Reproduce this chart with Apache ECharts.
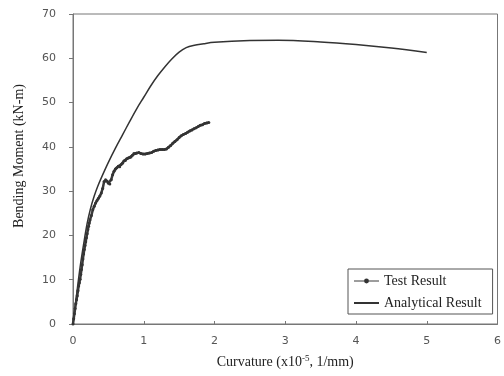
<!DOCTYPE html>
<html>
<head>
<meta charset="utf-8">
<script src="https://cdn.jsdelivr.net/npm/echarts@6/dist/echarts.min.js"></script>
<style>
  html, body { margin: 0; padding: 0; background: #fff; }
  #chart { width: 504px; height: 376px; }
</style>
</head>
<body>
<div id="chart"></div>
<script>
// test result (curvature x10^-5 1/mm, moment kN-m)
var testCurv = [0, 0.01, 0.02, 0.03, 0.04, 0.05, 0.06, 0.07, 0.08, 0.09, 0.10, 0.11, 0.12, 0.13, 0.14, 0.15, 0.16, 0.17, 0.18, 0.19,
  0.20, 0.21, 0.22, 0.23, 0.24, 0.26, 0.28, 0.30, 0.32, 0.34, 0.36, 0.38, 0.40, 0.42, 0.44, 0.46, 0.48, 0.50, 0.52, 0.54,
  0.56, 0.58, 0.60, 0.62, 0.64, 0.66, 0.68, 0.70, 0.72, 0.74, 0.76, 0.78, 0.80, 0.82, 0.84, 0.86, 0.88, 0.90, 0.93, 0.96,
  0.99, 1.02, 1.05, 1.08, 1.11, 1.14, 1.17, 1.20, 1.23, 1.26, 1.29, 1.32, 1.35, 1.38, 1.41, 1.44, 1.47, 1.50, 1.53, 1.56,
  1.59, 1.62, 1.65, 1.68, 1.71, 1.74, 1.77, 1.80, 1.83, 1.86, 1.89, 1.92];
var testMoment = [0, 1.2, 2.3, 3.5, 4.6, 5.5, 6.4, 7.5, 8.6, 9.3, 10.1, 11.2, 12.3, 13.4, 14.7, 15.8, 16.8, 17.7, 18.6, 19.5,
  20.4, 21.3, 22.1, 22.8, 23.5, 24.5, 25.8, 26.6, 27.3, 27.9, 28.4, 28.9, 29.6, 30.6, 32.2, 32.6, 32.3, 31.8, 31.6, 32.6,
  33.7, 34.5, 35.0, 35.3, 35.6, 35.5, 36.0, 36.3, 36.8, 36.9, 37.3, 37.5, 37.6, 37.7, 38.1, 38.5, 38.5, 38.6, 38.7, 38.5,
  38.4, 38.4, 38.5, 38.6, 38.7, 39.0, 39.2, 39.3, 39.4, 39.4, 39.4, 39.5, 39.9, 40.3, 40.8, 41.2, 41.6, 42.1, 42.5, 42.8,
  43.0, 43.3, 43.6, 43.8, 44.1, 44.3, 44.6, 44.9, 45.0, 45.3, 45.4, 45.5];

// analytical result
var anaCurv = [0, 0.05, 0.10, 0.15, 0.20, 0.25, 0.30, 0.35, 0.40, 0.50, 0.60, 0.70, 0.80, 0.90, 1.00, 1.10, 1.20, 1.30, 1.40,
  1.50, 1.60, 1.70, 1.85, 2.00, 2.50, 2.90, 3.50, 4.00, 4.50, 5.00];
var anaMoment = [0, 6.5, 12.8, 18.0, 22.7, 26.2, 28.9, 31.1, 33.0, 36.5, 39.7, 42.7, 45.7, 48.6, 51.2, 53.8, 56.1, 58.1, 59.9,
  61.4, 62.4, 62.9, 63.3, 63.6, 64.0, 64.1, 63.7, 63.1, 62.3, 61.3];

var xTicks = [0, 6, 1];
var yTicks = [0, 70, 10];

function pairs(xs, ys) {
  return xs.map(function (x, i) { return [x, ys[i]]; });
}

var serif = '"Liberation Serif", "Times New Roman", serif';
var sans = '"DejaVu Sans", Verdana, sans-serif';

var chart = echarts.init(document.getElementById('chart'));
chart.setOption({
  animation: false,
  backgroundColor: '#fff',
  grid: {
    left: 73, right: 5, top: 14, bottom: 52,
    show: true, borderColor: '#777', borderWidth: 1
  },
  legend: {
    left: 348, top: 269,
    orient: 'vertical',
    itemWidth: 25, itemHeight: 6, itemGap: 8,
    padding: [5, 11, 4, 5],
    borderColor: '#555', borderWidth: 1,
    textStyle: { fontFamily: serif, fontSize: 14, color: '#222' },
    data: [
      { name: 'Test Result', lineStyle: { width: 1 } },
      { name: 'Analytical Result', itemStyle: { opacity: 0 } }
    ]
  },
  xAxis: {
    type: 'value',
    min: xTicks[0], max: xTicks[1], interval: xTicks[2],
    name: 'Curvature (x10{sup|-5}, 1/mm)',
    nameLocation: 'middle', nameGap: 30,
    nameTextStyle: {
      fontFamily: serif, fontSize: 14, color: '#222',
      rich: { sup: { fontFamily: serif, fontSize: 9, color: '#222', verticalAlign: 'top', padding: [0, 0, 7, 0] } }
    },
    axisLine: { lineStyle: { color: '#777', width: 1 } },
    axisTick: { inside: true, length: 3, lineStyle: { color: '#777' } },
    axisLabel: { fontFamily: sans, fontSize: 11, color: '#555', margin: 12 },
    splitLine: { show: false }
  },
  yAxis: {
    type: 'value',
    min: yTicks[0], max: yTicks[1], interval: yTicks[2],
    name: 'Bending Moment (kN-m)',
    nameLocation: 'middle', nameGap: 47,
    nameTextStyle: { fontFamily: serif, fontSize: 14, color: '#222', padding: [0, 0, 0, 26] },
    axisLine: { show: true, lineStyle: { color: '#777', width: 1 } },
    axisTick: { show: true, inside: false, length: 4, lineStyle: { color: '#777' } },
    axisLabel: { fontFamily: sans, fontSize: 11, color: '#555', margin: 17 },
    splitLine: { show: false }
  },
  series: [
    {
      name: 'Test Result',
      type: 'line',
      data: pairs(testCurv, testMoment),
      showSymbol: true,
      symbol: 'circle',
      symbolSize: 3,
      itemStyle: { color: '#333' },
      lineStyle: { color: '#3a3a3a', width: 2.5 },
      z: 3
    },
    {
      name: 'Analytical Result',
      type: 'line',
      data: pairs(anaCurv, anaMoment),
      showSymbol: false,
      smooth: 0.35,
      itemStyle: { color: '#333' },
      lineStyle: { color: '#333', width: 1.5 },
      z: 2
    }
  ]
});
</script>
</body>
</html>
